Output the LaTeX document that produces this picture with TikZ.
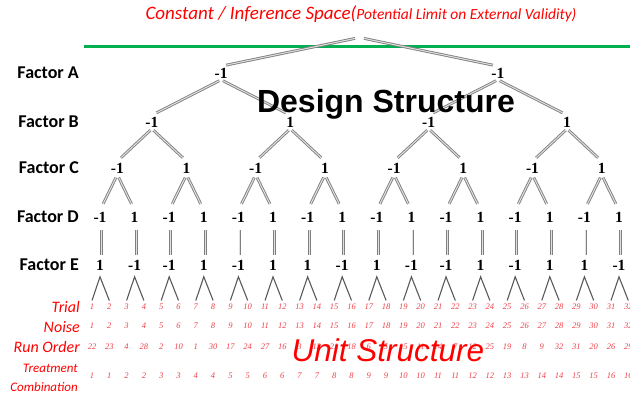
\documentclass[tikz,border=0pt]{standalone}
\usepackage{fontspec}
\setmainfont{Liberation Serif}
\newfontfamily\calib{Carlito}
\newfontfamily\arialf{Liberation Sans}
\definecolor{spacegreen}{RGB}{0,176,80}
\definecolor{unitred}{RGB}{255,0,0}
\definecolor{cellred}{RGB}{238,64,72}

\tikzset{
  lvl/.style={font=\fontsize{15.5}{15.5}\selectfont\bfseries, inner sep=1.5pt},
  factor/.style={font=\calib\fontsize{18}{18}\selectfont\bfseries, anchor=east, inner sep=0pt},
  rowlab/.style={font=\calib\itshape\fontsize{16}{16}\selectfont, text=unitred, anchor=east, inner sep=0pt},
  smallrowlab/.style={rowlab, font=\calib\itshape\fontsize{13}{13}\selectfont},
  cell/.style={font=\itshape\fontsize{8.5}{8.5}\selectfont, text=cellred, inner sep=1.5pt},
  branch/.style={draw=black!50, line width=0.9pt, double=black!12, double distance=1pt, shorten <=2pt, shorten >=5pt},
  leg/.style={draw=black!65, line width=1.1pt},
}

\begin{document}
\begin{tikzpicture}[x=1pt, y=-1pt]
    \useasboundingbox (0,0) rectangle (630,396);

    \node[font=\calib\itshape, text=unitred] (space) at (361,14)
        {\fontsize{19}{19}\selectfont Constant / Inference Space(\fontsize{15.5}{15.5}\selectfont Potential Limit on External Validity)};
    \draw[spacegreen, line width=3pt] (84,47) -- (630,47);

    \foreach \f/\y in {A/73,B/122,C/168,D/217,E/265}
        \node[factor] (f\f) at (79,\y) {Factor \f};

    \coordinate (root) at (359.5,38);
    \foreach \v [count=\i] in {-1,-1}
        \node[lvl] (a\i) at ({221.1+276.8*(\i-1)},73) {\v};
    \foreach \v [count=\i] in {-1,1,-1,1}
        \node[lvl] (b\i) at ({151.9+138.4*(\i-1)},122) {\v};
    \foreach \v [count=\i] in {-1,1,-1,1,-1,1,-1,1}
        \node[lvl] (c\i) at ({117.3+69.2*(\i-1)},168) {\v};
    \foreach \v [count=\i] in {-1,1,-1,1,-1,1,-1,1,-1,1,-1,1,-1,1,-1,1}
        \node[lvl] (d\i) at ({100+34.6*(\i-1)},217) {\v};
    \foreach \v [count=\i] in {1,-1,-1,1,-1,1,1,-1,1,-1,-1,1,-1,1,1,-1}
        \node[lvl] (e\i) at ({100+34.6*(\i-1)},265) {\v};

    \draw[branch] ([xshift=-2.5pt]root) -- (a1.north);
    \draw[branch] ([xshift=2.5pt]root) -- (a2.north);
    \foreach \k in {1,2} {
        \pgfmathtruncatemacro\l{2*\k-1}
        \pgfmathtruncatemacro\r{2*\k}
        \draw[branch] (a\k.south) -- (b\l.north);
        \draw[branch] (a\k.south) -- (b\r.north);
    }
    \foreach \k in {1,...,4} {
        \pgfmathtruncatemacro\l{2*\k-1}
        \pgfmathtruncatemacro\r{2*\k}
        \draw[branch] (b\k.south) -- (c\l.north);
        \draw[branch] (b\k.south) -- (c\r.north);
    }
    \foreach \k in {1,...,8} {
        \pgfmathtruncatemacro\l{2*\k-1}
        \pgfmathtruncatemacro\r{2*\k}
        \draw[branch, shorten <=3pt, shorten >=7pt] (c\k.south) -- (d\l.north);
        \draw[branch, shorten <=3pt, shorten >=7pt] (c\k.south) -- (d\r.north);
    }
    \foreach \k in {1,...,16}
        \draw[branch, shorten <=6pt, shorten >=3pt] ([xshift=1.5pt]d\k.south) -- ([xshift=1.5pt]e\k.north);

    \foreach \i in {1,...,32} {
        \pgfmathtruncatemacro\tc{(\i+1)/2}
        \node[cell] (t\i) at ({92+17.3*(\i-1)},307) {\i};
        \node[cell] (n\i) at ({92+17.3*(\i-1)},326) {\i};
        \node[cell] (tc\i) at ({92+17.3*(\i-1)},376) {\tc};
    }
    \foreach \v [count=\i] in {22,23,4,28,2,10,1,30,17,24,27,16,3,13,21,18,6,5,15,11,14,7,12,25,19,8,9,32,31,20,26,29}
        \node[cell] (r\i) at ({92+17.3*(\i-1)},347) {\v};
    \foreach \k in {1,...,16} {
        \pgfmathtruncatemacro\l{2*\k-1}
        \pgfmathtruncatemacro\r{2*\k}
        \draw[leg] ([yshift=2pt]t\l.north) -- ([yshift=-5pt]e\k.south) -- ([yshift=2pt]t\r.north);
    }

    \node[rowlab] (trial) at (80,307) {Trial};
    \node[rowlab] (noise) at (80,327) {Noise};
    \node[rowlab] (order) at (80,347) {Run Order};
    \node[smallrowlab] (treat) at (78,368) {Treatment};
    \node[smallrowlab] (combi) at (78,387) {Combination};

    \node[font=\arialf\bfseries\fontsize{32}{32}\selectfont, anchor=base] (design) at (386,113) {Design Structure};
    \node[font=\arialf\itshape\fontsize{31.5}{31.5}\selectfont, text=unitred, anchor=base] (unit) at (388,361) {Unit Structure};
\end{tikzpicture}
\end{document}
